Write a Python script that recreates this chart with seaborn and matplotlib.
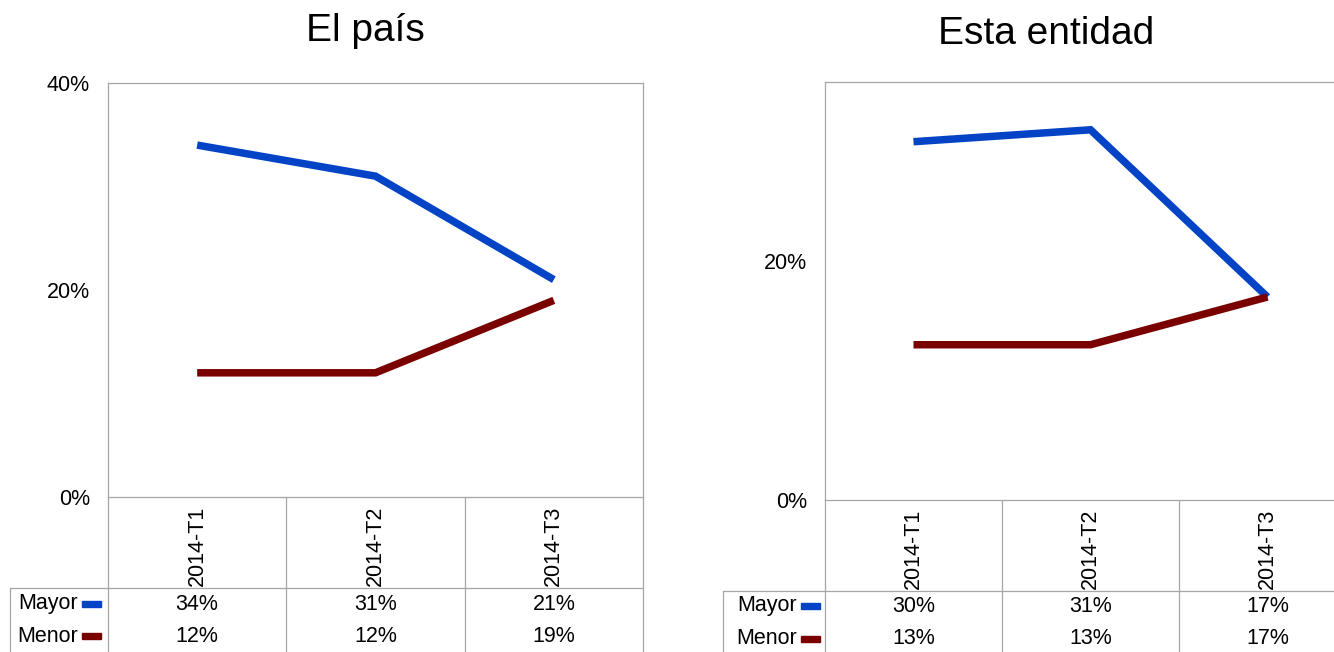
import numpy as np
import pandas as pd
import seaborn as sns
import matplotlib.pyplot as plt
from matplotlib.lines import Line2D
from matplotlib.patches import Rectangle
from matplotlib.ticker import FuncFormatter
from matplotlib.transforms import blended_transform_factory

# Data
categories = ["2014-T1", "2014-T2", "2014-T3"]
series_names = ["Mayor", "Menor"]
pais_mayor = [34, 31, 21]
pais_menor = [12, 12, 19]
entidad_mayor = [30, 31, 17]
entidad_menor = [13, 13, 17]

colors = {"Mayor": "#0343C6", "Menor": "#7A0000"}
grid_col = "#A6A6A6"

sns.set_theme(style="white")
plt.rcParams['font.family'] = ['Liberation Sans', 'DejaVu Sans']

W, H = 1334, 652
fig = plt.figure(figsize=(W / 100, H / 100), dpi=100)


def fx(px):
    return px / W


def fy(py):
    return 1 - py / H


def panel(box, title, mayor, menor, ymax, yticks, title_x, title_y,
          table_left, row_line, rows_y, label_right):
    x0, y0, x1, y1 = box
    ax = fig.add_axes([fx(x0), fy(y1), fx(x1 - x0), (y1 - y0) / H])
    df = pd.DataFrame({
        "periodo": categories * 2,
        "valor": mayor + menor,
        "serie": ["Mayor"] * 3 + ["Menor"] * 3,
    })
    sns.lineplot(data=df, x="periodo", y="valor", hue="serie",
                 palette=colors, linewidth=5.4, legend=False, sort=False, ax=ax)
    for ln in ax.get_lines():
        ln.set_solid_capstyle("butt")
        ln.set_solid_joinstyle("miter")
    ax.set_xlim(-0.5, 2.5)
    ax.set_ylim(0, ymax)
    ax.set_yticks(yticks)
    ax.yaxis.set_major_formatter(FuncFormatter(lambda v, p: f"{v:.0f}%"))
    ax.tick_params(axis="y", labelsize=15.5, length=0, pad=13, colors="black")
    ax.set_xticks([])
    ax.set_xlabel("")
    ax.set_ylabel("")
    for s in ax.spines.values():
        s.set_color(grid_col)
        s.set_linewidth(0.9)
    fig.text(fx(title_x), fy(title_y), title, fontsize=28,
             ha="center", va="center", color="black")

    # data table under the axis
    tr = blended_transform_factory(ax.transData, fig.transFigure)
    for b in [-0.5, 0.5, 1.5, 2.5]:
        fig.add_artist(Line2D([b, b], [fy(y1), 0], transform=tr,
                              color=grid_col, lw=0.9, clip_on=False))
    fig.add_artist(Line2D([fx(table_left), fx(table_left)], [fy(row_line), 0],
                          transform=fig.transFigure, color=grid_col, lw=0.9))
    x_end = ax.transData.transform((2.5, 0))[0] / W
    fig.add_artist(Line2D([fx(table_left), x_end], [fy(row_line), fy(row_line)],
                          transform=fig.transFigure, color=grid_col, lw=0.9))
    for i, cat in enumerate(categories):
        fig.text(i, fy(row_line - 2), cat, transform=tr, rotation=90,
                 ha="center", va="bottom", fontsize=15.5, color="black")
    for name, vals, ry in zip(series_names, [mayor, menor], rows_y):
        fig.text(fx(label_right), fy(ry), name, ha="right", va="center",
                 fontsize=15.5, color="black")
        fig.add_artist(Rectangle((fx(label_right + 4), fy(ry + 3)),
                                 fx(19), 6 / H, transform=fig.transFigure,
                                 color=colors[name]))
        for i, v in enumerate(vals):
            fig.text(i, fy(ry), f"{v}%", transform=tr, ha="center",
                     va="center", fontsize=15.5, color="black")
    return ax


panel((108, 83, 643, 497), "El país", pais_mayor, pais_menor, 40, [0, 20, 40],
      365, 31, 10, 588, (604, 636), 78)
panel((825, 82, 1356, 500), "Esta entidad", entidad_mayor, entidad_menor, 35,
      [0, 20], 1046, 34, 723, 591, (606, 639), 797)

fig.savefig("out.png", dpi=100, facecolor="white")
